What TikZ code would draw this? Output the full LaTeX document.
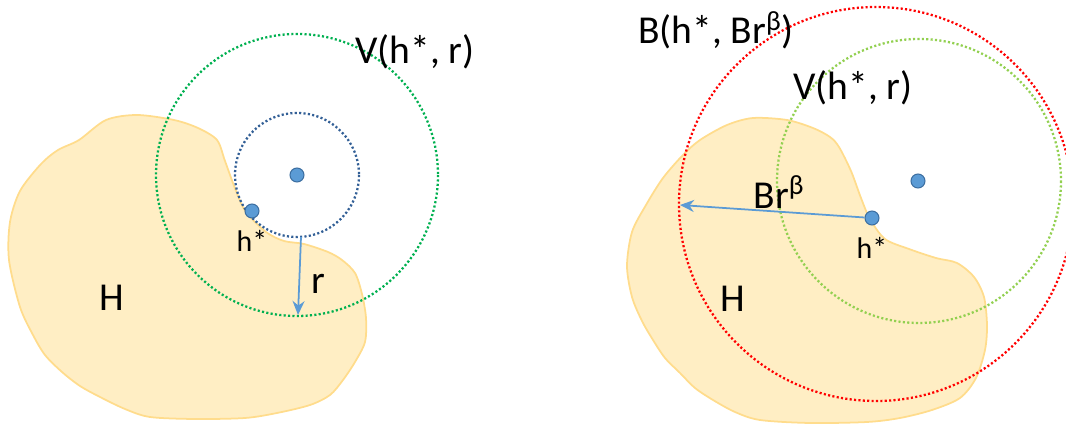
\documentclass[tikz,border=0pt]{standalone}
\usepackage{fontspec}
\setmainfont{Carlito}
\usepackage{tikz}
\usepackage{xcolor}
\usetikzlibrary{arrows.meta, positioning}
\definecolor{cBlob}{RGB}{255,238,196}
\definecolor{cBlobEdge}{RGB}{255,220,140}
\definecolor{cDot}{RGB}{91,155,213}
\definecolor{cDotEdge}{RGB}{60,110,160}
\definecolor{cGreen}{RGB}{0,176,80}
\definecolor{cLime}{RGB}{146,208,80}
\definecolor{cRed}{RGB}{255,0,0}
\definecolor{cNavy}{RGB}{50,95,150}
\tikzset{
	blob/.style     ={draw=cBlobEdge, fill=cBlob, line width=1pt},
	ring/.style     ={line width=1.3pt, dash pattern=on 1.2pt off 1.3pt},
	hpoint/.style   ={circle, fill=cDot, draw=cDotEdge, line width=0.6pt, minimum size=0.28cm, inner sep=0pt},
	biglbl/.style   ={font=\fontsize{22.5}{26}\selectfont, inner sep=0pt},
	smalllbl/.style ={font=\fontsize{17}{20}\selectfont, inner sep=0pt},
	ray/.style      ={-{Stealth[length=2.8mm, width=2.4mm]}, draw=cDot, line width=1pt},
}
\begin{document}
\begin{tikzpicture}[x=0.02cm, y=-0.02cm]
	\useasboundingbox (0,0) rectangle (1066,425);
	% left panel
	\draw[blob] plot[smooth cycle, tension=0.5] coordinates {(106,120) (137,115) (174,120) (198,128) (217,140) (225,161) (236,191) (246,212) (266,232) (284,241) (304,244) (328,252) (342,260) (355,273) (362,294) (366,318) (365,342) (355,362) (343,380) (330,395) (310,405) (277,413) (245,418) (195,419) (150,417) (125,409) (100,397) (80,386) (62,372) (45,355) (33,335) (20,307) (9,260) (10,222) (20,191) (41,164) (58,150) (79,140)};
	\draw[ring, cGreen] (297,175) circle[radius=141];
	\draw[ring, cNavy] (297,175) circle[radius=62];
	\node[hpoint] (ctrL) at (297,175) {};
	\node[hpoint] (hstarL) at (252,211) {};
	\node[smalllbl, below=0.22cm of hstarL] (hlblL) {h*};
	\coordinate (rtop) at (301,237);
	\coordinate (rbot) at (298,315);
	\draw[ray] (rtop) -- (rbot);
	\node[biglbl] (rlbl) at (318,284) {r};
	\node[biglbl] (HL) at (112,298) {H};
	\node[biglbl] (VL) at (415,52) {V(h*, r)};
	% right panel
	\draw[blob] plot[smooth cycle, tension=0.5] coordinates {(727,125) (753,118) (787,120) (813,128) (830,137) (839,147) (851,171) (861,198) (870,219) (885,239) (909,249) (936,258) (957,263) (974,277) (984,297) (987,325) (985,350) (976,378) (960,398) (932,410) (900,418) (867,422) (810,423) (760,420) (735,412) (713,400) (695,388) (680,373) (665,358) (653,340) (642,321) (632,297) (627,266) (632,232) (646,205) (663,178) (683,155) (700,140)};
	\draw[ring, cLime] (919,181) circle[radius=142];
	\draw[ring, cRed] (876,204) circle[radius=197];
	\node[hpoint] (ctrR) at (918,181) {};
	\node[hpoint] (hstarR) at (872,218) {};
	\node[smalllbl, below=0.22cm of hstarR] (hlblR) {h*};
	\coordinate (redleft) at (680,205);
	\draw[ray] (hstarR) -- (redleft);
	\node[biglbl] (brlbl) at (779,192) {Br\textsuperscript{β}};
	\node[biglbl] (HR) at (733,299) {H};
	\node[biglbl] (VR) at (853,88) {V(h*, r)};
	\node[biglbl] (BR) at (716,30) {B(h*, Br\textsuperscript{β})};
\end{tikzpicture}
\end{document}
